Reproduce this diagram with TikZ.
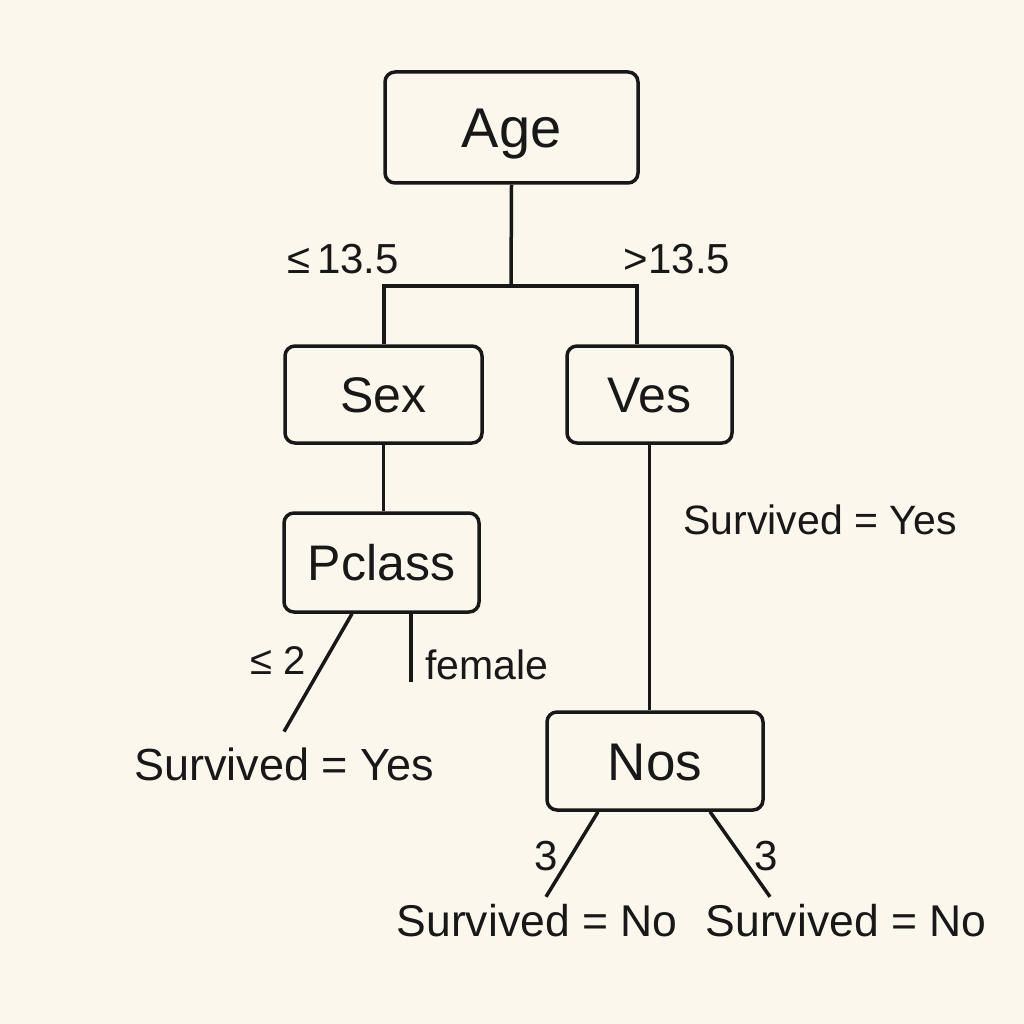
\documentclass[tikz,border=0pt]{standalone}
\usepackage{fontspec}
\setmainfont{Liberation Sans}
\usetikzlibrary{calc}
\definecolor{bg}{HTML}{FCF7EC}
\definecolor{ink}{HTML}{181818}
\begin{document}
\begin{tikzpicture}[x=1pt,y=-1pt,
  box/.style={draw=ink, line width=3.5pt, rounded corners=10pt, inner sep=0pt, text=ink},
  lbl/.style={inner sep=0pt, text=ink},
  fs/.style={font=\fontsize{#1pt}{#1pt}\selectfont, text height=0.72*#1pt, text depth=0pt},
  edge/.style={draw=ink, line width=3.5pt}]
\fill[bg] (0,0) rectangle (1024,1024);
\useasboundingbox (0,0) rectangle (1024,1024);

% boxes
\node[box,fs=56,minimum width=253pt,minimum height=111pt] (age) at (511.5,127.5) {Age};
\node[box,fs=50,minimum width=197pt,minimum height=97pt] (sex) at (383.5,394.5) {Sex};
\node[box,fs=50,minimum width=165pt,minimum height=97pt] (ves) at (649.5,394.5) {Ves};
\node[box,fs=50,minimum width=195pt,minimum height=99pt] (pclass) at (381.5,562.5) {Pclass};
\node[box,fs=53,minimum width=216pt,minimum height=98pt] (nos) at (655,761) {Nos};

% labels
\node[lbl,fs=42] (le) at (343,258) {≤\,13.5};
\node[lbl,fs=42] (gt) at (677,258) {>13.5};
\node[lbl,fs=41] (sy) at (820,520) {Survived = Yes};
\node[lbl,fs=41] (fem) at (487,665) {female};
\node[lbl,fs=40] (le2) at (278,660) {≤ 2};
\node[lbl,fs=42] (t1) at (546,855) {3};
\node[lbl,fs=42] (t2) at (766,855) {3};

% leaves
\node[lbl,fs=45] (leafA) at (284,764) {Survived = Yes};
\node[lbl,fs=44.5] (leafB) at (537,920) {Survived = No};
\node[lbl,fs=44.5] (leafC) at (846,920) {Survived = No};

% connectors
\coordinate (jl) at (384,286);
\coordinate (jm) at (511,286);
\coordinate (jr) at (637,286);
\coordinate (fe) at (411,682);
\draw[edge] (age.south) -- (jm);
\draw[edge] (jl |- sex.north) -- (jl) -- (jr) -- (jr |- ves.north);
\draw[edge] (sex.south) -- (sex.south |- pclass.north);
\draw[edge] ($(pclass.south)+(-29.5,0)$) -- ($(leafA.north)+(0,-16)$);
\draw[edge] (pclass.south -| fe) -- (fe);
\draw[edge] (ves.south) -- (ves.south |- nos.north);
\draw[edge] ($(nos.south)+(-57,0)$) -- ($(leafB.north)+(9,-7)$);
\draw[edge] ($(nos.south)+(55,0)$) -- ($(leafC.north)+(-76,-7)$);
\end{tikzpicture}
\end{document}
